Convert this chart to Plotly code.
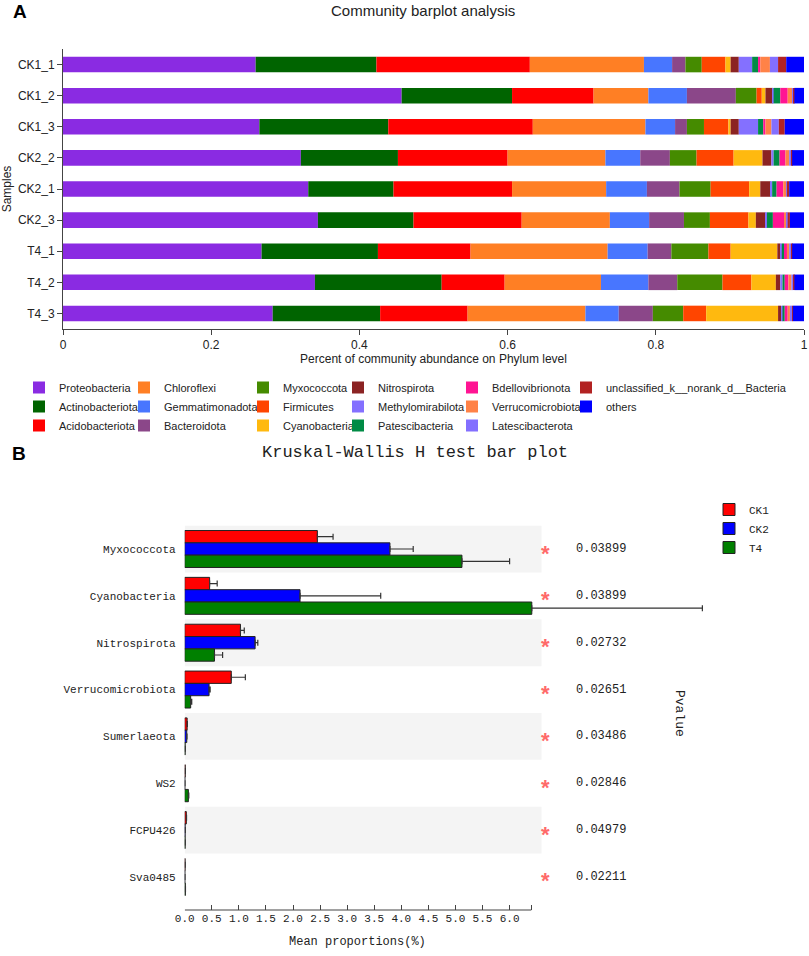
import numpy as np
import plotly.graph_objects as go

W, H = 809, 956
SANS = "Liberation Sans"
MONO = "Liberation Mono"

# ---- panel A: community barplot (phylum level) ----
samples = ["CK1_1", "CK1_2", "CK1_3", "CK2_2", "CK2_1", "CK2_3", "T4_1", "T4_2", "T4_3"]

phyla = ["Proteobacteria", "Actinobacteriota", "Acidobacteriota", "Chloroflexi",
         "Gemmatimonadota", "Bacteroidota", "Myxococcota", "Firmicutes",
         "Cyanobacteria", "Nitrospirota", "Methylomirabilota", "Patescibacteria",
         "Bdellovibrionota", "Verrucomicrobiota", "Latescibacterota",
         "unclassified_k__norank_d__Bacteria", "others"]

proteobacteria = [0.260, 0.457, 0.265, 0.321, 0.331, 0.344, 0.268, 0.340, 0.283]
actinobacteriota = [0.163, 0.149, 0.174, 0.131, 0.115, 0.129, 0.157, 0.171, 0.145]
acidobacteriota = [0.207, 0.110, 0.195, 0.148, 0.160, 0.146, 0.125, 0.085, 0.118]
chloroflexi = [0.154, 0.074, 0.152, 0.132, 0.127, 0.119, 0.185, 0.130, 0.159]
gemmatimonadota = [0.038, 0.052, 0.040, 0.047, 0.055, 0.053, 0.054, 0.064, 0.045]
bacteroidota = [0.018, 0.066, 0.016, 0.040, 0.044, 0.047, 0.032, 0.039, 0.046]
myxococcota = [0.022, 0.028, 0.023, 0.036, 0.042, 0.035, 0.050, 0.061, 0.041]
firmicutes = [0.032, 0.007, 0.033, 0.050, 0.052, 0.052, 0.030, 0.039, 0.031]
cyanobacteria = [0.007, 0.005, 0.003, 0.039, 0.015, 0.010, 0.063, 0.033, 0.097]
nitrospirota = [0.011, 0.010, 0.011, 0.012, 0.014, 0.013, 0.004, 0.006, 0.004]
methylomirabilota = [0.018, 0.001, 0.026, 0.003, 0.002, 0.002, 0.002, 0.003, 0.002]
patescibacteria = [0.008, 0.009, 0.007, 0.008, 0.006, 0.008, 0.003, 0.003, 0.003]
bdellovibrionota = [0.003, 0.010, 0.003, 0.008, 0.009, 0.015, 0.004, 0.005, 0.004]
verrucomicrobiota = [0.013, 0.006, 0.008, 0.005, 0.004, 0.004, 0.003, 0.004, 0.003]
latescibacterota = [0.011, 0.002, 0.010, 0.003, 0.001, 0.001, 0.003, 0.003, 0.003]
unclassified = [0.011, 0.001, 0.008, 0.001, 0.003, 0.003, 0.001, 0.001, 0.001]
others = [0.024, 0.013, 0.026, 0.016, 0.020, 0.019, 0.016, 0.013, 0.015]

abundance = [proteobacteria, actinobacteriota, acidobacteriota, chloroflexi,
             gemmatimonadota, bacteroidota, myxococcota, firmicutes, cyanobacteria,
             nitrospirota, methylomirabilota, patescibacteria, bdellovibrionota,
             verrucomicrobiota, latescibacterota, unclassified, others]

phylum_colors = ["#8A2BE2", "#006400", "#FF0000", "#FF7F24", "#4876FF", "#8B4789",
                 "#458B00", "#FF4500", "#FFB90F", "#8B2323", "#8470FF", "#008B45",
                 "#FF1493", "#FF8247", "#836FFF", "#B22222", "#0000FF"]

a_ticks = [0, 0.2, 0.4, 0.6, 0.8, 1]
a_ticklabels = ["0", "0.2", "0.4", "0.6", "0.8", "1"]

# ---- panel B: Kruskal-Wallis H test ----
kw_taxa = ["Myxococcota", "Cyanobacteria", "Nitrospirota", "Verrucomicrobiota",
           "Sumerlaeota", "WS2", "FCPU426", "Sva0485"]
ck1_mean = [2.45, 0.46, 1.03, 0.86, 0.045, 0.010, 0.030, 0.007]
ck1_err = [0.29, 0.14, 0.07, 0.26, 0.005, 0.002, 0.004, 0.002]
ck2_mean = [3.79, 2.13, 1.30, 0.45, 0.038, 0.003, 0.008, 0.003]
ck2_err = [0.43, 1.49, 0.05, 0.02, 0.004, 0.001, 0.002, 0.001]
t4_mean = [5.12, 6.41, 0.55, 0.11, 0.008, 0.068, 0.008, 0.012]
t4_err = [0.88, 3.15, 0.15, 0.02, 0.002, 0.008, 0.002, 0.002]
p_values = ["0.03899", "0.03899", "0.02732", "0.02651", "0.03486", "0.02846", "0.04979", "0.02211"]

b_ticks = [0, 0.5, 1.0, 1.5, 2.0, 2.5, 3.0, 3.5, 4.0, 4.5, 5.0, 5.5, 6.0, 6.4]
b_ticklabels = ["0.0", "0.5", "1.0", "1.5", "2.0", "2.5", "3.0", "3.5", "4.0",
                "4.5", "5.0", "5.5", "6.0", ""]


# page pixel -> paper fraction (body margin is removed in post_script)
def fx(px):
    return px / W


def fy(py):
    return 1 - py / H


fig = go.Figure()

# stacked bars, built with an explicit base so panel B can use its own offsets
base = np.zeros(len(samples))
legend_names = ["legend", "legend2", "legend3", "legend4", "legend5", "legend6"]
for i, (name, vals, col) in enumerate(zip(phyla, abundance, phylum_colors)):
    fig.add_trace(go.Bar(
        y=samples, x=vals, base=base.copy(), orientation="h", name=name,
        marker=dict(color=col, line=dict(width=0)),
        width=0.5, offset=-0.25, legend=legend_names[i // 3],
        xaxis="x", yaxis="y",
    ))
    base += np.array(vals)

b_groups = [("CK1", ck1_mean, ck1_err, "#FF0000", -0.395),
            ("CK2", ck2_mean, ck2_err, "#0000FF", -0.132),
            ("T4", t4_mean, t4_err, "#008000", 0.131)]
for name, means, errs, col, off in b_groups:
    fig.add_trace(go.Bar(
        y=kw_taxa, x=means, orientation="h", name=name,
        marker=dict(color=col, line=dict(color="#222222", width=1)),
        width=0.263, offset=off,
        error_x=dict(type="data", symmetric=False, array=errs,
                     arrayminus=[0] * len(errs), color="#333333",
                     thickness=1.2, width=3),
        legend="legend7", xaxis="x2", yaxis="y2",
    ))

shapes = []
for i in range(0, len(kw_taxa), 2):
    shapes.append(dict(type="rect", xref="x2", yref="y2", x0=0, x1=6.59,
                       y0=i - 0.5, y1=i + 0.5, fillcolor="#F4F4F4",
                       line=dict(width=0), layer="below"))
shapes.append(dict(type="line", xref="x2", yref="paper", x0=0, x1=6.4,
                   y0=fy(910), y1=fy(910), line=dict(color="#444444", width=1.2)))

annotations = [
    dict(text="<b>A</b>", x=fx(20), y=fy(12), xref="paper", yref="paper",
         xanchor="center", yanchor="middle", showarrow=False,
         font=dict(family=SANS, size=19, color="black")),
    dict(text="Community barplot analysis", x=fx(423), y=fy(10), xref="paper",
         yref="paper", xanchor="center", yanchor="middle", showarrow=False,
         font=dict(family=SANS, size=15, color="#222")),
    dict(text="<b>B</b>", x=fx(19), y=fy(453), xref="paper", yref="paper",
         xanchor="center", yanchor="middle", showarrow=False,
         font=dict(family=SANS, size=19, color="black")),
    dict(text="Kruskal-Wallis H test bar plot", x=fx(415), y=fy(452), xref="paper",
         yref="paper", xanchor="center", yanchor="middle", showarrow=False,
         font=dict(family=MONO, size=17, color="#222")),
    dict(text="Mean proportions(%)", x=3.2, y=fy(942), xref="x2", yref="paper",
         xanchor="center", yanchor="middle", showarrow=False,
         font=dict(family=MONO, size=12, color="#222")),
    dict(text="Pvalue", x=fx(680), y=fy(713), xref="paper", yref="paper",
         xanchor="center", yanchor="middle", textangle=90, showarrow=False,
         font=dict(family=MONO, size=13, color="#222")),
]
for taxon, p in zip(kw_taxa, p_values):
    annotations.append(dict(text="<b>*</b>", x=6.672, y=taxon, xref="x2", yref="y2",
                            xanchor="center", yanchor="middle", showarrow=False,
                            yshift=-4, font=dict(family=SANS, size=22, color="#FF6A6A")))
    annotations.append(dict(text=p, x=7.18, y=taxon, xref="x2", yref="y2",
                            xanchor="left", yanchor="middle", showarrow=False,
                            font=dict(family=MONO, size=12, color="#222")))

legend_text_x = [59, 164, 283, 378, 492, 606]
legend_cfg = {}
for name, tx in zip(legend_names, legend_text_x):
    legend_cfg[name] = dict(x=fx(tx - 40), y=fy(373), xanchor="left", yanchor="top",
                            orientation="v", bgcolor="rgba(0,0,0,0)",
                            font=dict(family=SANS, size=11, color="#222"))
legend_cfg["legend7"] = dict(x=fx(749 - 40), y=fy(495), xanchor="left", yanchor="top",
                             orientation="v", bgcolor="rgba(0,0,0,0)",
                             font=dict(family=MONO, size=11, color="#222"))

fig.update_layout(
    width=W, height=H,
    margin=dict(l=0, r=0, t=0, b=0, autoexpand=False),
    paper_bgcolor="white", plot_bgcolor="white",
    barmode="overlay",
    showlegend=True,
    shapes=shapes,
    annotations=annotations,
    xaxis=dict(domain=[fx(63), fx(804)], range=[0, 1], anchor="y",
               tickvals=a_ticks, ticktext=a_ticklabels, ticks="outside", ticklen=5,
               tickcolor="#444", showline=True, linecolor="#444", linewidth=1,
               showgrid=False, zeroline=False, automargin=False,
               tickfont=dict(family=SANS, size=12, color="#222"),
               title=dict(text="Percent of community abundance on Phylum level",
                          font=dict(family=SANS, size=12, color="#222"), standoff=3)),
    yaxis=dict(domain=[fy(329), fy(49)], anchor="x", categoryorder="array",
               categoryarray=samples, autorange="reversed", automargin=False,
               ticks="outside", ticklen=5, tickcolor="#444", showline=True,
               linecolor="#444", linewidth=1, showgrid=False, zeroline=False,
               tickfont=dict(family=SANS, size=12, color="#222"),
               title=dict(text="Samples", font=dict(family=SANS, size=12, color="#222"),
                          standoff=4)),
    xaxis2=dict(domain=[fx(184.7), fx(720)], range=[0, (720 - 184.7) / 54.15],
                anchor="free", position=fy(910), tickvals=b_ticks, ticktext=b_ticklabels,
                ticks="inside", ticklen=5, tickcolor="#444", showline=False,
                showgrid=False, zeroline=False, automargin=False,
                tickfont=dict(family=MONO, size=11, color="#222")),
    yaxis2=dict(domain=[fy(900.4), fy(525.6)], anchor="x2", categoryorder="array",
                categoryarray=kw_taxa, autorange="reversed", ticks="",
                ticklabelstandoff=8, showline=False, showgrid=False, zeroline=False,
                automargin=False,
                tickfont=dict(family=MONO, size=11, color="#222")),
    **legend_cfg,
)

fig.write_html("out.html", config={"displayModeBar": False},
               post_script="document.body.style.margin = '0px'; document.body.style.overflow = 'hidden';")
